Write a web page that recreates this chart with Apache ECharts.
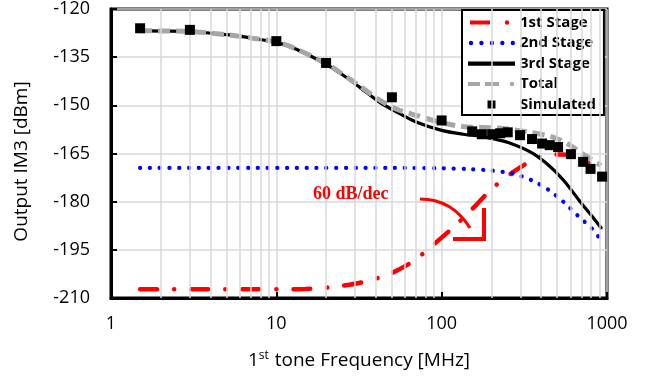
<!DOCTYPE html>
<html>
<head>
<meta charset="utf-8">
<script src="https://cdn.jsdelivr.net/npm/echarts@6/dist/echarts.min.js"></script>
<style>
  html, body { margin: 0; padding: 0; background: #fff; }
  #chart { width: 651px; height: 382px; }
</style>
</head>
<body>
<div id="chart"></div>
<script>
// values (x in MHz, y in dBm)
const stage1Freq = [1.5, 3, 6, 10, 15, 20, 25, 33, 48, 67, 89, 120, 155, 202, 270, 367, 450, 542, 650, 790, 900];
const stage1Im3 = [-207.3, -207.3, -207.3, -207.3, -207.2, -206.8, -206.2, -205.1, -202.6, -198.6, -193.4, -187.6, -182, -175.9, -170.8, -166.7, -165.4, -165.3, -166.2, -168.2, -170];

const stage2Freq = [1.5, 10, 50, 100, 150, 200, 270, 352, 448, 549, 670, 815, 900];
const stage2Im3 = [-169.5, -169.5, -169.5, -169.6, -169.9, -170.3, -171.3, -173.4, -176.5, -180.2, -184.5, -188.5, -191.3];

const stage3Freq = [1.5, 3, 5, 7, 10, 13, 20, 25, 32, 42, 54, 70, 100, 135, 170, 200, 250, 343, 433, 541, 688, 810, 930];
const stage3Im3 = [-126.8, -127.0, -128.0, -129.0, -130.4, -132.4, -137.2, -140.4, -144.4, -149.0, -152.2, -155.2, -157.8, -159.0, -159.6, -160.3, -161.5, -164.5, -168.2, -173.1, -180, -184.5, -188.5];

const totalFreq = [1.5, 3, 5, 7, 10, 13, 20, 25, 32, 42, 54, 71, 98, 134, 178, 226, 343, 470, 595, 755, 920];
const totalIm3 = [-126.8, -127.0, -128.0, -129.0, -130.3, -132.3, -137.0, -140.2, -144.0, -148.3, -151.3, -153.2, -155.3, -156.6, -156.9, -157.1, -158.4, -159.9, -162.4, -166.0, -168.8];

const simFreq = [1.5, 3, 10, 20, 50, 100, 153, 175, 202, 226, 251, 298, 352, 405, 450, 506, 605, 717, 795, 934];
const simIm3 = [-126.0, -126.5, -130.0, -136.8, -147.5, -154.7, -158.1, -159.0, -159.0, -158.7, -158.4, -159.3, -160.5, -161.9, -162.4, -163.0, -165.2, -167.6, -169.8, -172.2];

// minor vertical grid lines of the log axis
const minorGrid = [2, 3, 4, 5, 6, 7, 8, 9, 20, 30, 40, 50, 60, 70, 80, 90, 200, 300, 400, 500, 600, 700, 800, 900];
const seriesNames = ["1st Stage", "2nd Stage", "3rd Stage", "Total", "Simulated"];

const zip = (xs, ys) => xs.map((x, i) => [x, ys[i]]);

// legend icons drawn as filled paths inside a 47x14 box (the two moves fix the box)
const box = "path://M0,0M47,14";
const dot = (cx) => "M" + (cx - 2.2) + ",7a2.2,2.2 0 1,0 4.4,0a2.2,2.2 0 1,0 -4.4,0z";
const legendIcons = {
  "1st Stage": box + "M2,5h20v4h-20z" + dot(39),
  "2nd Stage": box + dot(3) + dot(13.5) + dot(24) + dot(34.5) + dot(45),
  "3rd Stage": box + "M0,5h47v4.2h-47z",
  "Total": box + "M0,5h12v4h-12z" + "M17,5h14v4h-14z" + dot(44),
  "Simulated": box + "M19.5,3h8v8h-8z",
};

const chart = echarts.init(document.getElementById("chart"));
const font = "Open Sans";

const option = {
  animation: false,
  backgroundColor: "#fff",
  grid: {
    left: 111, right: 44, top: 5, bottom: 84,
    show: true, borderColor: "#000", borderWidth: 3,
  },
  legend: {
    data: seriesNames.map((n) => ({ name: n, icon: legendIcons[n] })),
    orient: "vertical",
    left: 462, top: 10,
    itemWidth: 47, itemHeight: 14, itemGap: 5.5,
    padding: [5, 8, 3, 6],
    borderColor: "#000", borderWidth: 2,
    backgroundColor: "#fff",
    itemStyle: { borderWidth: 0 },
    textStyle: { fontFamily: font, fontWeight: "bold", fontSize: 15, color: "#000" },
  },
  xAxis: {
    type: "log", logBase: 10, min: 1, max: 1000,
    name: "{a|1}{s|st}{a| tone Frequency [MHz]}",
    nameLocation: "middle", nameGap: 52,
    nameTextStyle: {
      rich: {
        a: { fontFamily: font, fontSize: 19, color: "#000" },
        s: { fontFamily: font, fontSize: 12, color: "#000", padding: [0, 1, 9, 0] },
      },
    },
    axisLine: { onZero: false, lineStyle: { color: "#000", width: 3 } },
    axisTick: { inside: true, length: 6, lineStyle: { color: "#000", width: 2 } },
    axisLabel: { fontFamily: font, fontSize: 18, color: "#000", margin: 17, formatter: (v) => String(v) },
    splitLine: { lineStyle: { color: "#d9d9d9", width: 1.5 } },
  },
  yAxis: {
    type: "value", min: -210, max: -120, interval: 15,
    name: "Output IM3 [dBm]",
    nameLocation: "middle", nameGap: 80,
    nameTextStyle: { fontFamily: font, fontSize: 19, color: "#000", padding: [0, 16, 0, 0] },
    axisLine: { lineStyle: { color: "#000", width: 3 } },
    axisTick: { inside: true, length: 6, lineStyle: { color: "#000", width: 2 } },
    axisLabel: { fontFamily: font, fontSize: 18, color: "#000", margin: 21 },
    splitLine: { lineStyle: { color: "#d9d9d9", width: 1.5 } },
  },
  series: [
    {
      name: "minor",
      type: "line",
      data: [],
      silent: true,
      z: 1,
      markLine: {
        silent: true,
        symbol: "none",
        label: { show: false },
        lineStyle: { color: "#d9d9d9", width: 1.5, type: "solid" },
        data: minorGrid.map((v) => ({ xAxis: v })),
      },
    },
    {
      name: seriesNames[0],
      type: "line",
      symbol: "none",
      smooth: 0.3,
      data: zip(stage1Freq, stage1Im3),
      lineStyle: { color: "#ff0000", width: 4.5, type: [17, 17, 0.1, 17], cap: "round" },
      itemStyle: { color: "#ff0000" },
    },
    {
      name: seriesNames[1],
      type: "line",
      symbol: "none",
      smooth: 0.3,
      data: zip(stage2Freq, stage2Im3),
      lineStyle: { color: "#0000ff", width: 4.2, type: [0.1, 9.7], cap: "round" },
      itemStyle: { color: "#0000ff" },
    },
    {
      name: seriesNames[2],
      type: "line",
      symbol: "none",
      smooth: 0.3,
      data: zip(stage3Freq, stage3Im3),
      lineStyle: { color: "#000", width: 3.2 },
      itemStyle: { color: "#000" },
    },
    {
      name: seriesNames[3],
      type: "line",
      symbol: "none",
      smooth: 0.3,
      data: zip(totalFreq, totalIm3),
      lineStyle: { color: "#a6a6a6", width: 5, type: [12, 6] },
      itemStyle: { color: "#a6a6a6" },
    },
    {
      name: seriesNames[4],
      type: "scatter",
      symbol: "rect",
      symbolSize: 10,
      data: zip(simFreq, simIm3),
      itemStyle: { color: "#000", opacity: 1 },
      z: 5,
    },
  ],
  graphic: [
    {
      type: "text",
      left: 313, top: 185,
      style: { text: "60 dB/dec", fill: "#ff0000", font: "bold 18px 'Liberation Serif'" },
      z: 10,
    },
    {
      type: "bezierCurve",
      shape: { x1: 420, y1: 199, cpx1: 452, cpy1: 199, x2: 470, y2: 228 },
      style: { stroke: "#ff0000", lineWidth: 3, fill: null },
      z: 10,
    },
    {
      type: "polyline",
      shape: { points: [[484, 208], [484, 239], [453, 239]] },
      style: { stroke: "#ff0000", lineWidth: 4, fill: null },
      z: 10,
    },
  ],
};

chart.setOption(option);
</script>
</body>
</html>
